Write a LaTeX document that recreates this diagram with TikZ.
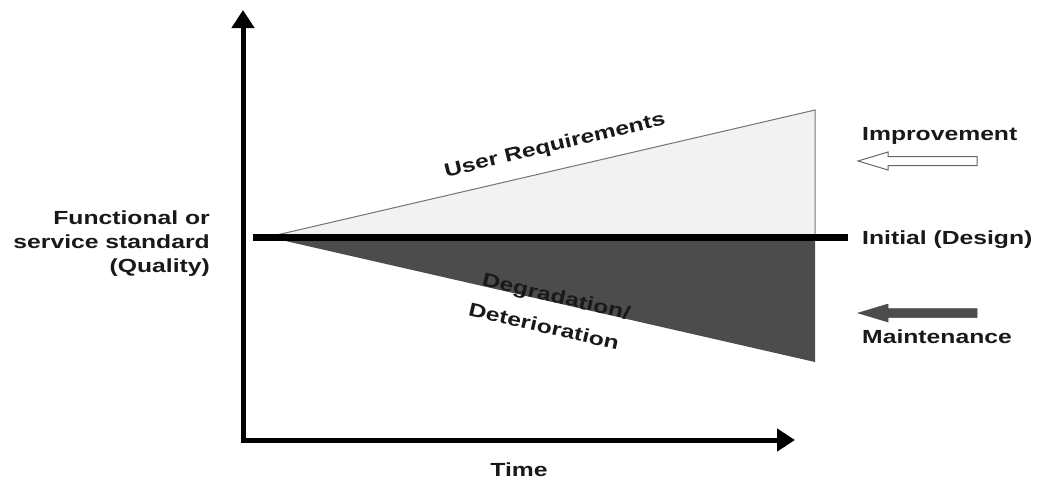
\documentclass[tikz,border=0pt]{standalone}
\usepackage{fontspec}
% bold labels set a little wider than the font's natural width
\setmainfont{Liberation Sans}[FakeStretch=1.3]
\usetikzlibrary{arrows.meta}
\begin{document}
\begin{tikzpicture}[x=1pt,y=-1pt,
  lbl/.style={font=\bfseries\fontsize{19}{24}\selectfont, inner sep=0pt, text=black!90},
  axis/.style={line width=5pt, line join=miter, {Triangle[length=18pt,width=22pt]}-{Triangle[length=18pt,width=22pt]}},
  raise/.style={fill=black!5, draw=black!55, line width=1pt},
  decay/.style={fill=black!70},
  hollowarrow/.style={fill=white, draw=black!60, line width=1pt},
  darkarrow/.style={fill=black!70, draw=black!70, line width=0.5pt}]
\useasboundingbox (0,0) rectangle (1043,483);

% axes
\coordinate (ytop) at (243,10);
\coordinate (O) at (243,440);
\coordinate (xend) at (795,440);
\draw[axis] (ytop) -- (O) -- (xend);

% wedges above and below the design level
\coordinate (S) at (268,237);
\coordinate (U) at (815,110);
\coordinate (B) at (815,237);
\coordinate (L) at (815,362);
\path[raise] (S) -- (U) -- (B) -- cycle;
\path[decay] (S) -- (L) -- (B) -- cycle;

% initial design level
\coordinate (d0) at (253,237);
\coordinate (d1) at (848,237);
\draw[line width=7pt] (d0) -- (d1);

% legend arrows
\path[hollowarrow] (858,161) -- (888,152) -- (888,156.5) -- (977,156.5) -- (977,165.5) -- (888,165.5) -- (888,170) -- cycle;
\path[darkarrow] (858,313) -- (888,304) -- (888,308.5) -- (977,308.5) -- (977,317.5) -- (888,317.5) -- (888,322) -- cycle;

% labels
\node[lbl, anchor=west] (impr) at (862,136) {Improvement};
\node[lbl, anchor=west] (init) at (862,240) {Initial (Design)};
\node[lbl, anchor=west] (maint) at (862,337) {Maintenance};
\node[lbl] (time) at (519,470) {Time};
\node[lbl, anchor=east, align=right] (qual) at (210,244)
  {Functional or\\service standard\\(Quality)};
\node[lbl, rotate=13.5] (ureq) at (555,146) {User Requirements};
\node[lbl, rotate=-13] (degr) at (556,298) {Degradation/};
\node[lbl, rotate=-13] (deter) at (544,326) {Deterioration};
\end{tikzpicture}
\end{document}
